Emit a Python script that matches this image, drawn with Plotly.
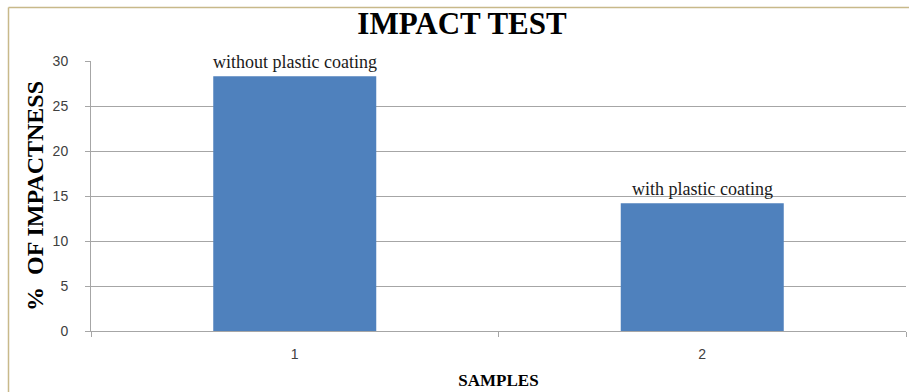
import plotly.graph_objects as go

categories = ["1", "2"]
values = [28.3, 14.2]
bar_labels = ["without plastic coating", "with plastic coating"]
title_text = "IMPACT TEST"
x_title = "SAMPLES"
y_title = "%  OF IMPACTNESS"

SERIF = "Liberation Serif, Times New Roman, serif"
SANS = "Liberation Sans, Arial, sans-serif"

W, H = 909, 392
L, R, T, B = 91, 3, 61, 61
PW, PH = W - L - R, H - T - B

fig = go.Figure()
fig.add_trace(go.Bar(
    x=categories, y=values, width=0.4,
    marker=dict(color="#4f81bd", line=dict(width=0)),
    hoverinfo="skip",
))

for i, (v, t) in enumerate(zip(values, bar_labels)):
    fig.add_annotation(x=i, y=v, text=t, showarrow=False, xanchor="center",
                       yanchor="bottom", yshift=2,
                       font=dict(family=SERIF, size=18, color="#1a1a1a"))

fig.update_layout(
    width=W, height=H,
    margin=dict(l=L, r=R, t=T, b=B, autoexpand=False),
    paper_bgcolor="white", plot_bgcolor="white",
    showlegend=False,
    title=dict(text="<b>" + title_text + "</b>", x=462 / W, xanchor="center",
               y=1 - 23 / H, yanchor="middle", yref="container",
               font=dict(family=SERIF, size=31, color="black")),
)

fig.update_xaxes(
    type="category", range=[-0.5, 1.5], tickson="boundaries", ticks="outside", ticklen=5,
    tickcolor="#a6a6a6", showline=True, linecolor="#a6a6a6", linewidth=1,
    showgrid=False, tickfont=dict(family=SANS, size=14, color="#404040"),
    ticklabelstandoff=10, automargin=False,
    title=dict(text="<b>" + x_title + "</b>", standoff=13,
               font=dict(family=SERIF, size=17, color="black")),
)
fig.update_yaxes(
    range=[0, 30], dtick=5, ticks="outside", ticklen=5, tickcolor="#a6a6a6",
    showline=True, linecolor="#a6a6a6", linewidth=1,
    showgrid=True, gridcolor="#a6a6a6", gridwidth=1, zeroline=False,
    tickfont=dict(family=SANS, size=14, color="#404040"),
    ticklabelstandoff=14, automargin=False,
    title=dict(text="<b>" + y_title + "</b>", standoff=2,
               font=dict(family=SERIF, size=24, color="black")),
)

# outer frame (left and top edges)
fx = (8.5 - L) / PW
fy = (H - B - 7.5) / PH
fig.add_shape(type="line", xref="paper", yref="paper",
              x0=fx, x1=fx, y0=-B / PH - 0.1, y1=fy,
              line=dict(color="#c8b98a", width=1.5))
fig.add_shape(type="line", xref="paper", yref="paper",
              x0=fx, x1=(W - L) / PW + 0.05, y0=fy, y1=fy,
              line=dict(color="#c8b98a", width=1.5))

fig.write_html("out.html", config={"displayModeBar": False},
               post_script="document.body.style.margin='0';document.body.style.overflow='hidden';")
